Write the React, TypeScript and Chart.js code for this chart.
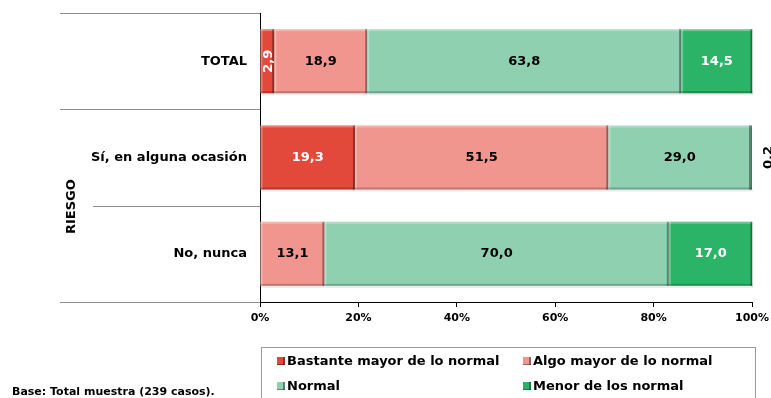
import React, { useEffect, useRef } from "react";
import { Chart, registerables } from "chart.js";

Chart.register(...registerables);

const FONT = '"DejaVu Sans", Verdana, sans-serif';

const categories = ["TOTAL", "Sí, en alguna ocasión", "No, nunca"];
const seriesNames = [
  "Bastante mayor de lo normal",
  "Algo mayor de lo normal",
  "Normal",
  "Menor de los normal",
];
const bastanteMayor = [2.9, 19.3, 0];
const algoMayor = [18.9, 51.5, 13.1];
const normal = [63.8, 29.0, 70.0];
const menor = [14.5, 0.2, 17.0];
const seriesColors = ["#E2493B", "#F1968F", "#8FD0B1", "#2BB467"];
const labelColors = ["#ffffff", "#000000", "#000000", "#ffffff"];
const xTicks = [0, 20, 40, 60, 80, 100];
// outer group title spanning the 2nd and 3rd categories
const groupTitle = "RIESGO";
const groupStart = 1;
const groupEnd = 2;
const footnote = "Base: Total muestra (239 casos).";

const fmt = (v: number) => v.toFixed(1).replace(".", ",");

// Bevelled look for each bar segment
const bevelPlugin = {
  id: "bevel",
  afterDatasetsDraw(chart: any) {
    const ctx = chart.ctx;
    chart.data.datasets.forEach((_: any, di: number) => {
      const meta = chart.getDatasetMeta(di);
      meta.data.forEach((bar: any) => {
        const { x, y, base, height } = bar.getProps(["x", "y", "base", "height"], true);
        const l = Math.min(x, base);
        const r = Math.max(x, base);
        if (r - l < 0.5) return;
        const t = y - height / 2;
        const b = y + height / 2;
        ctx.save();
        ctx.fillStyle = "rgba(255,255,255,0.28)";
        ctx.fillRect(l, t, r - l, 2);
        ctx.fillRect(l, t, Math.min(2, r - l), b - t);
        ctx.fillStyle = "rgba(0,0,0,0.22)";
        ctx.fillRect(l, b - 2, r - l, 2);
        ctx.fillStyle = "rgba(0,0,0,0.38)";
        ctx.fillRect(r - Math.min(2, r - l), t, Math.min(2, r - l), b - t);
        ctx.fillStyle = "rgba(0,0,0,0.08)";
        ctx.fillRect(l + 1, b, r - l, 2);
        ctx.restore();
      });
    });
  },
};

// Value labels inside (or beside) each segment
const valueLabelPlugin = {
  id: "valueLabels",
  afterDatasetsDraw(chart: any) {
    const ctx = chart.ctx;
    ctx.save();
    ctx.font = `bold 13px ${FONT}`;
    ctx.textAlign = "center";
    ctx.textBaseline = "middle";
    chart.data.datasets.forEach((ds: any, di: number) => {
      const meta = chart.getDatasetMeta(di);
      meta.data.forEach((bar: any, i: number) => {
        const v = ds.data[i];
        if (!v) return;
        const { x, y, base } = bar.getProps(["x", "y", "base"], true);
        const w = Math.abs(x - base);
        const cx = (x + base) / 2;
        if (v < 1) {
          // too thin: rotated label placed right of the bar
          ctx.fillStyle = "#000";
          ctx.save();
          ctx.translate(Math.max(x, base) + 17, y);
          ctx.rotate(-Math.PI / 2);
          ctx.fillText(String(v), 0, 0);
          ctx.restore();
        } else if (w < 25) {
          ctx.fillStyle = labelColors[di];
          ctx.save();
          ctx.translate(cx + 1, y);
          ctx.rotate(-Math.PI / 2);
          ctx.fillText(fmt(v), 0, 0);
          ctx.restore();
        } else {
          ctx.fillStyle = labelColors[di];
          ctx.fillText(fmt(v), cx, y);
        }
      });
    });
    ctx.restore();
  },
};

// Category separators, group title, legend box and footnote
const decorPlugin = {
  id: "decor",
  afterDraw(chart: any) {
    const ctx = chart.ctx;
    const area = chart.chartArea;
    const yScale = chart.scales.y;
    ctx.save();
    ctx.strokeStyle = "#8c8c8c";
    ctx.lineWidth = 1;
    for (let i = 0; i <= categories.length; i++) {
      const py = Math.round(yScale.getPixelForValue(i - 0.5)) + 0.5;
      const inner = i > groupStart && i <= groupEnd;
      ctx.beginPath();
      ctx.moveTo(inner ? 93 : 60, py);
      ctx.lineTo(area.left, py);
      ctx.stroke();
    }

    ctx.fillStyle = "#000";
    ctx.font = `bold 13px ${FONT}`;
    ctx.textAlign = "center";
    ctx.textBaseline = "middle";
    const gTop = yScale.getPixelForValue(groupStart - 0.5);
    const gBottom = yScale.getPixelForValue(groupEnd + 0.5);
    ctx.save();
    ctx.translate(72, (gTop + gBottom) / 2 + 1);
    ctx.rotate(-Math.PI / 2);
    ctx.fillText(groupTitle, 0, 0);
    ctx.restore();

    // legend
    const boxX = area.left + 1.5;
    const boxY = 347.5;
    ctx.strokeStyle = "#9a9a9a";
    ctx.strokeRect(boxX, boxY, 494, 70);
    const cols = [area.left + 17, area.left + 263];
    const rows = [361, 386];
    ctx.textAlign = "left";
    ctx.font = `bold 13px ${FONT}`;
    chart.data.datasets.forEach((ds: any, di: number) => {
      const mx = cols[di % 2];
      const my = rows[Math.floor(di / 2)];
      ctx.fillStyle = ds.backgroundColor;
      ctx.fillRect(mx, my - 4, 8, 8);
      ctx.fillStyle = "rgba(0,0,0,0.35)";
      ctx.fillRect(mx + 6, my - 4, 2, 8);
      ctx.fillRect(mx, my + 3, 8, 1);
      ctx.fillStyle = "#000";
      ctx.fillText(ds.label, mx + 10, my + 1);
    });

    ctx.font = `bold 11px ${FONT}`;
    ctx.fillText(footnote, 12, 392);
    ctx.restore();
  },
};

export default function App() {
  const canvasRef = useRef<HTMLCanvasElement | null>(null);

  useEffect(() => {
    document.body.style.margin = "0";
    Chart.defaults.font.family = FONT;
    const seriesValues = [bastanteMayor, algoMayor, normal, menor];
    const chart = new Chart(canvasRef.current as HTMLCanvasElement, {
      type: "bar",
      data: {
        labels: categories,
        datasets: seriesNames.map((name, i) => ({
          label: name,
          data: seriesValues[i],
          backgroundColor: seriesColors[i],
          borderWidth: 0,
          categoryPercentage: 1,
          barPercentage: 0.665,
        })),
      },
      options: {
        indexAxis: "y",
        responsive: false,
        animation: false,
        layout: { padding: { top: 13, right: 19, left: 0, bottom: 0 } },
        plugins: {
          legend: { display: false },
          tooltip: { enabled: false },
        },
        scales: {
          x: {
            stacked: true,
            min: 0,
            max: 100,
            afterBuildTicks: (scale: any) => {
              scale.ticks = xTicks.map((v) => ({ value: v }));
            },
            afterFit: (scale: any) => {
              scale.height = 96;
              scale.paddingLeft = 0;
              scale.paddingRight = 0;
            },
            grid: {
              drawOnChartArea: false,
              drawTicks: true,
              tickLength: 5,
              color: "#000",
            },
            border: { color: "#000", width: 1 },
            ticks: {
              color: "#000",
              font: { family: FONT, size: 11, weight: "bold" },
              padding: 5,
              maxRotation: 0,
              callback: (v: any) => `${v}%`,
            },
          },
          y: {
            stacked: true,
            afterFit: (scale: any) => {
              scale.width = 260;
              scale.paddingTop = 0;
              scale.paddingBottom = 0;
            },
            grid: { drawOnChartArea: false, drawTicks: false },
            border: { color: "#000", width: 1 },
            ticks: {
              color: "#000",
              font: { family: FONT, size: 13, weight: "bold" },
              padding: 13,
            },
          },
        },
      },
      plugins: [bevelPlugin, valueLabelPlugin, decorPlugin],
    } as any);
    return () => chart.destroy();
  }, []);

  return (
    <div style={{ position: "absolute", left: 0, top: 0, width: 771, height: 398, background: "#fff" }}>
      <canvas ref={canvasRef} width={771} height={398} />
    </div>
  );
}
